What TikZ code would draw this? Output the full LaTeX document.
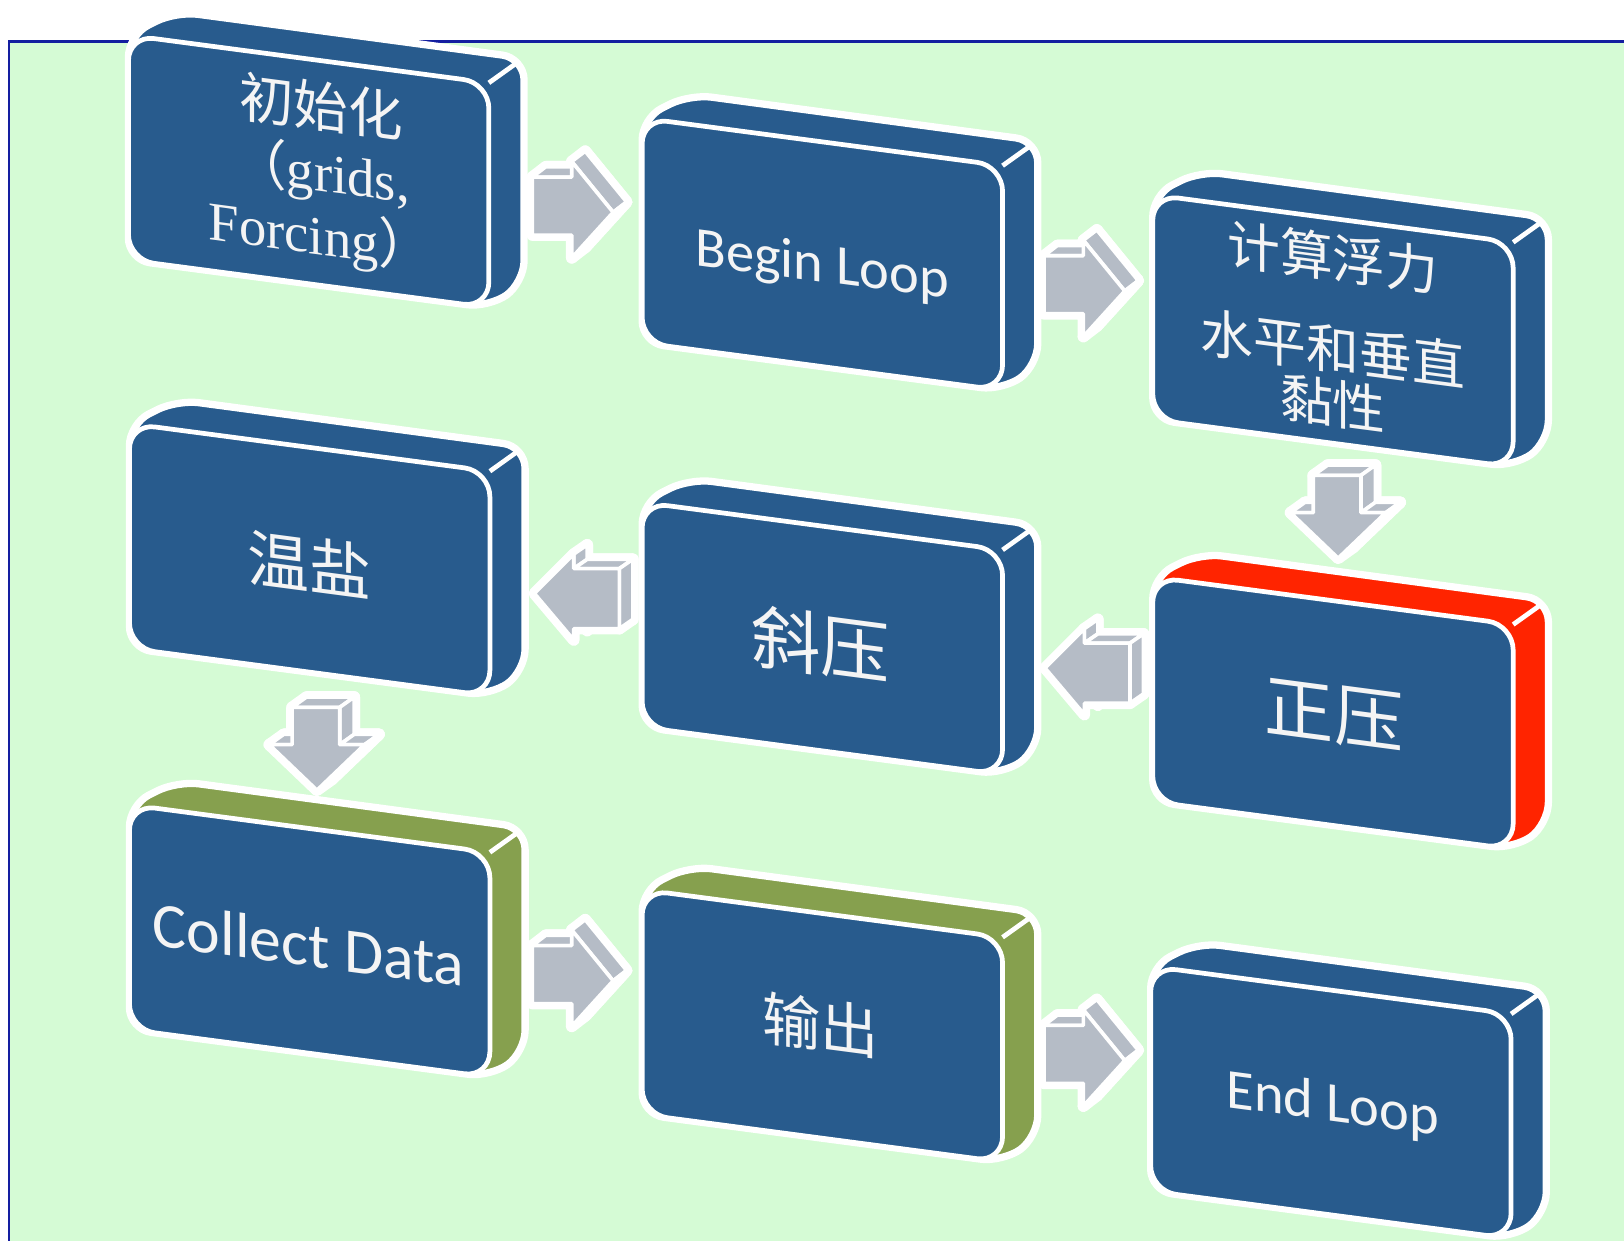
\documentclass[tikz,border=0pt]{standalone}
\usepackage{fontspec}
\setmainfont{Liberation Serif}
\newfontfamily\cjk{Noto Sans CJK SC}
\newfontfamily\calib{Carlito}
\definecolor{boxblue}{RGB}{40,91,141}
\definecolor{sidered}{RGB}{255,36,0}
\definecolor{sidegreen}{RGB}{134,160,78}
\definecolor{arrgrey}{RGB}{181,188,198}
\definecolor{bggreen}{RGB}{213,251,213}
\definecolor{framenavy}{RGB}{20,30,160}
\definecolor{txt}{RGB}{244,244,244}
\tikzset{
  halo/.style={draw=white, line width=2pt, line join=round, rounded corners=6pt},
  frontface/.style={fill=boxblue, draw=white, line width=1.3pt, rounded corners=7pt},
  arrhalo/.style={fill=white, draw=white, line width=3.2pt, line join=round},
  arrface/.style={fill=arrgrey, draw=white, line width=1pt, line join=round},
  lbl/.style={text=txt, align=center, inner sep=0pt, yslant=-0.132},
}
\newcommand{\tdbox}[2]{%
  \begin{scope}[shift={#1}]
    \path[halo, fill=#2] (46,-23) -- (382,22) -- (382,239) -- (348,263) -- (0,217) -- (0,0) -- cycle;
    \draw[white, line width=1.3pt] (348,46) -- (376,26);
    \path[frontface] (0,0) -- (348,46) -- (348,263) -- (0,217) -- cycle;
  \end{scope}}
\newcommand{\lab}[4]{%
  \begin{scope}[shift={#1}]
    \node[lbl, font={#3}] (#2) at (0,0) {#4};
  \end{scope}}
\newcommand{\rarrow}[1]{%
  \begin{scope}[shift={#1}]
    \foreach \p in {arrhalo,arrface}{
      \path[\p] (13,-38) -- (51,-38) -- (51,-53) -- (91,-4) -- (51,40) -- (51,18) -- (13,18) -- cycle;
      \path[\p] (0,-28) -- (38,-28) -- (51,-38) -- (13,-38) -- cycle;
      \path[\p] (38,-43) -- (51,-53) -- (91,-4) -- (78,6) -- cycle;
      \path[\p] (78,6) -- (91,-4) -- (51,40) -- (38,50) -- cycle;
      \path[\p] (0,-28) -- (38,-28) -- (38,-43) -- (78,6) -- (38,50) -- (38,28) -- (0,28) -- cycle;
    }
  \end{scope}}
\newcommand{\larrow}[1]{%
  \begin{scope}[shift={#1}]
    \foreach \p in {arrhalo,arrface}{
      \path[\p] (13,-9) -- (51,-47) -- (51,-33) -- (95,-33) -- (95,25) -- (51,25) -- (51,36) -- cycle;
      \path[\p] (38,-38) -- (51,-47) -- (51,-33) -- (38,-24) -- cycle;
      \path[\p] (38,-24) -- (51,-33) -- (95,-33) -- (82,-24) -- cycle;
      \path[\p] (82,-24) -- (95,-33) -- (95,25) -- (82,34) -- cycle;
      \path[\p] (0,0) -- (38,-38) -- (38,-24) -- (82,-24) -- (82,34) -- (38,34) -- (38,45) -- cycle;
    }
  \end{scope}}
\newcommand{\darrow}[1]{%
  \begin{scope}[shift={#1}]
    \foreach \p in {arrhalo,arrface}{
      \path[\p] (14,-10) -- (-32,-54) -- (-10,-54) -- (-10,-90) -- (36,-90) -- (36,-54) -- (60,-54) -- cycle;
      \path[\p] (-24,-80) -- (-10,-90) -- (36,-90) -- (22,-80) -- cycle;
      \path[\p] (22,-80) -- (36,-90) -- (36,-54) -- (22,-44) -- cycle;
      \path[\p] (22,-44) -- (36,-54) -- (60,-54) -- (46,-44) -- cycle;
      \path[\p] (-46,-44) -- (-32,-54) -- (-10,-54) -- (-24,-44) -- cycle;
      \path[\p] (46,-44) -- (60,-54) -- (14,-10) -- (0,0) -- cycle;
      \path[\p] (0,0) -- (-46,-44) -- (-24,-44) -- (-24,-80) -- (22,-80) -- (22,-44) -- (46,-44) -- cycle;
    }
  \end{scope}}
\begin{document}
\begin{tikzpicture}[x=0.01cm, y=-0.01cm]
  \useasboundingbox (0,0) rectangle (1568,1198);
  \fill[white] (0,0) rectangle (1568,1198);
  \fill[bggreen] (9,40) rectangle (1568,1198);
  \draw[framenavy, line width=0.6pt] (9,1198) -- (9,40) -- (1568,40);

  % boxes
  \tdbox{(124,34)}{boxblue}
  \tdbox{(620,114)}{boxblue}
  \tdbox{(1113,188)}{boxblue}
  \tdbox{(125,409)}{boxblue}
  \tdbox{(620,485)}{boxblue}
  \tdbox{(1113,557)}{sidered}
  \tdbox{(125,777)}{sidegreen}
  \tdbox{(620,859)}{sidegreen}
  \tdbox{(1111,933)}{boxblue}

  % arrows
  \rarrow{(514,199)}
  \rarrow{(1008,275)}
  \darrow{(1292,539)}
  \larrow{(1009,645)}
  \larrow{(516,573)}
  \darrow{(306,763)}
  \rarrow{(514,941)}
  \rarrow{(1008,1018)}

  % labels
  \lab{(310,168)}{n1}{\fontsize{15}{17.5}\selectfont}{{\cjk 初始化}\\{\cjk （}grids,\\Forcing{\cjk ）}}
  \lab{(794,258)}{n2}{\calib\fontsize{15.5}{18}\selectfont}{Begin Loop}
  \lab{(1287,319)}{n3}{\cjk\fontsize{14.5}{15}\selectfont}{计算浮力\\[10pt]水平和垂直\\黏性}
  \lab{(299,545)}{n4}{\cjk\fontsize{17}{17}\selectfont}{温盐}
  \lab{(792,622)}{n5}{\cjk\fontsize{19}{19}\selectfont}{斜压}
  \lab{(1288,690)}{n6}{\cjk\fontsize{19}{19}\selectfont}{正压}
  \lab{(298,912)}{n7}{\calib\fontsize{17.5}{20}\selectfont}{Collect Data}
  \lab{(792,990)}{n8}{\cjk\fontsize{16}{16}\selectfont}{输出}
  \lab{(1287,1068)}{n9}{\calib\fontsize{15.5}{18}\selectfont}{End Loop}
\end{tikzpicture}
\end{document}
